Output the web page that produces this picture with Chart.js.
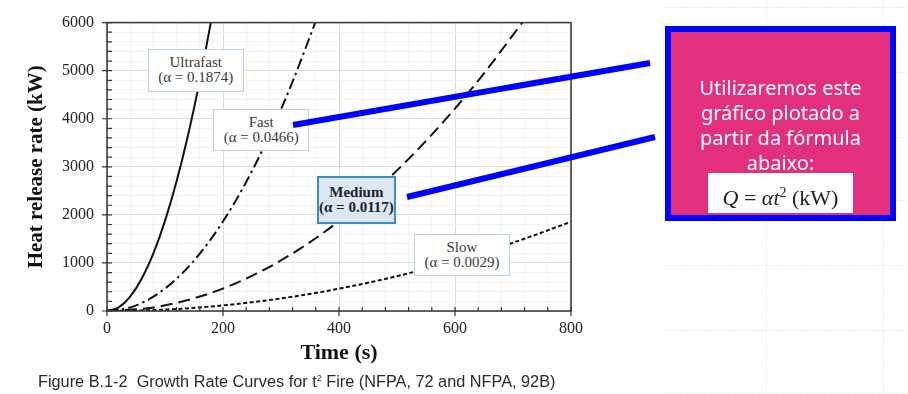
<!DOCTYPE html>
<html>
<head>
<meta charset="utf-8">
<script src="https://cdn.jsdelivr.net/npm/chart.js@4.4.1/dist/chart.umd.min.js"></script>
<style>
  body { margin: 0; width: 908px; height: 394px; overflow: hidden; background: #fff; position: relative; }
  #paper { position: absolute; left: 0; top: 0; }
  #chartBox { position: absolute; left: 0; top: 0; width: 908px; height: 394px; }
  .lbl {
    position: absolute; box-sizing: border-box; background: #fff;
    border: 1.5px solid #b9d3e8; color: #3a3a3a;
    font-family: 'Liberation Serif', 'Times New Roman', serif;
    font-size: 15px; line-height: 15px; text-align: center;
    display: flex; flex-direction: column; justify-content: center;
  }
  .lbl.med { background: #dbe8f4; border: 2px solid #3d8ad0; font-weight: bold; color: #1e1e1e; }
  #caption {
    position: absolute; left: 38px; top: 372px; white-space: nowrap;
    font-family: 'Liberation Sans', Arial, sans-serif; font-size: 16.3px; color: #2a2a2a;
  }
  #caption sup { font-size: 9px; }
  #note {
    position: absolute; left: 665px; top: 26px; width: 231px; height: 195px;
    box-sizing: border-box; border: 6px solid #0000ff; background: #e2307f;
  }
  #noteText {
    position: absolute; left: 665px; top: 75px; width: 231px; text-align: center;
    color: #fff; font-family: 'Noto Sans', sans-serif; font-size: 20px; line-height: 25px;
  }
  #formula {
    position: absolute; left: 708px; top: 173px; width: 145px; height: 40px; background: #fff;
    font-family: 'Liberation Serif', 'Times New Roman', serif; font-size: 22px; color: #222;
    text-align: center; line-height: 40px;
  }
  #formula sup { font-size: 14px; }
  #links { position: absolute; left: 0; top: 0; }
</style>
</head>
<body>
<svg id="paper" width="908" height="394">
  <g stroke="#ececec" stroke-width="1" stroke-dasharray="2,1">
    <line x1="665" y1="7.5" x2="908" y2="7.5"/>
    <line x1="665" y1="72.5" x2="908" y2="72.5"/>
    <line x1="665" y1="137.5" x2="908" y2="137.5"/>
    <line x1="665" y1="200.5" x2="908" y2="200.5"/>
    <line x1="665" y1="265.5" x2="908" y2="265.5"/>
    <line x1="665" y1="330.5" x2="908" y2="330.5"/>
    <line x1="665" y1="393.5" x2="908" y2="393.5"/>
    <line x1="766.5" y1="0" x2="766.5" y2="394"/>
    <line x1="883.5" y1="0" x2="883.5" y2="394"/>
  </g>
</svg>
<div id="chartBox"><canvas id="fireChart" width="908" height="394"></canvas></div>
<div class="lbl" id="lbl0"></div>
<div class="lbl" id="lbl1"></div>
<div class="lbl med" id="lbl2"></div>
<div class="lbl" id="lbl3"></div>
<div id="caption">Figure B.1-2&nbsp; Growth Rate Curves for t<sup>2</sup> Fire (NFPA, 72 and NFPA, 92B)</div>
<svg id="links" width="908" height="394">
  <line x1="293" y1="125" x2="650" y2="63" stroke="#0000ff" stroke-width="6"/>
  <line x1="407" y1="197" x2="655" y2="137" stroke="#0000ff" stroke-width="6"/>
</svg>
<div id="note"></div>
<div id="noteText">Utilizaremos este<br>gráfico plotado a<br>partir da fórmula<br>abaixo:</div>
<div id="formula"><i>Q</i> = <i>αt</i><sup>2</sup> (kW)</div>
<script>
  // values (t in s, Q in kW)
  const ultraT = [0, 20, 40, 60, 80, 100, 120, 140, 160, 179];
  const ultraQ = [0, 75, 300, 675, 1199, 1874, 2699, 3673, 4797, 6000];
  const fastT = [0, 40, 80, 120, 160, 200, 240, 280, 320, 359];
  const fastQ = [0, 75, 298, 671, 1193, 1864, 2684, 3653, 4772, 6000];
  const mediumT = [0, 80, 160, 240, 320, 400, 480, 560, 640, 716];
  const mediumQ = [0, 75, 300, 674, 1198, 1872, 2696, 3669, 4792, 6000];
  const slowT = [0, 100, 200, 300, 400, 500, 600, 700, 800];
  const slowQ = [0, 29, 116, 261, 464, 725, 1044, 1421, 1856];

  const seriesNames = ['Ultrafast', 'Fast', 'Medium', 'Slow'];
  const alphas = ['0.1874', '0.0466', '0.0117', '0.0029'];

  // label boxes, anchored at (t, Q) centre
  const labelBoxes = [
      { t: 153, q: 5005, w: 96, h: 43 },
      { t: 266, q: 3756, w: 96, h: 42 },
      { t: 430, q: 2315, w: 79, h: 48 },
      { t: 612, q: 1157, w: 96, h: 42 }
  ];

  const pts = (ts, qs) => ts.map((t, i) => ({ x: t, y: qs[i] }));
  const serif = "'Liberation Serif', 'Times New Roman', serif";

  const lineSet = (label, data, dash) => ({
      label: label,
      data: data,
      borderColor: '#111',
      borderWidth: 2,
      borderDash: dash,
      pointRadius: 0,
      fill: false,
      cubicInterpolationMode: 'monotone'
  });

  const framePlugin = {
      id: 'frame',
      afterDatasetsDraw(chart) {
          const { ctx, chartArea: a, scales: { x, y } } = chart;
          ctx.save();
          ctx.strokeStyle = '#333';
          ctx.lineWidth = 1.5;
          ctx.strokeRect(a.left, a.top, a.right - a.left, a.bottom - a.top);
          ctx.beginPath();
          x.ticks.forEach(t => {
              const px = x.getPixelForValue(t.value);
              ctx.moveTo(px, a.bottom - 4);
              ctx.lineTo(px, t.value % 200 === 0 ? a.bottom + 5 : a.bottom);
          });
          y.ticks.forEach(t => {
              const py = y.getPixelForValue(t.value);
              ctx.moveTo(t.value % 1000 === 0 ? a.left - 5 : a.left, py);
              ctx.lineTo(a.left + 5, py);
          });
          ctx.lineWidth = 1.2;
          ctx.stroke();
          ctx.restore();
      },
      afterDraw(chart) {
          const { x, y } = chart.scales;
          labelBoxes.forEach((b, i) => {
              const el = document.getElementById('lbl' + i);
              el.innerHTML = seriesNames[i] + '<br>(α = ' + alphas[i] + ')';
              el.style.width = b.w + 'px';
              el.style.height = b.h + 'px';
              el.style.left = (x.getPixelForValue(b.t) - b.w / 2) + 'px';
              el.style.top = (y.getPixelForValue(b.q) - b.h / 2) + 'px';
          });
      }
  };

  const ctx = document.getElementById('fireChart').getContext('2d');
  const fireChart = new Chart(ctx, {
      type: 'line',
      data: {
          datasets: [
              lineSet('Ultrafast', pts(ultraT, ultraQ), []),
              lineSet('Fast', pts(fastT, fastQ), [11, 4, 2.5, 4]),
              lineSet('Medium', pts(mediumT, mediumQ), [12, 6]),
              lineSet('Slow', pts(slowT, slowQ), [4, 2.5])
          ]
      },
      options: {
          responsive: false,
          animation: false,
          layout: { padding: { left: 0, top: 15, right: 337, bottom: 0 } },
          plugins: {
              legend: { display: false },
              tooltip: { enabled: false }
          },
          scales: {
              x: {
                  type: 'linear',
                  min: 0,
                  max: 800,
                  afterFit: s => { s.height = 83; },
                  border: { display: false },
                  grid: {
                      drawTicks: false,
                      color: c => (c.tick && c.tick.value % 200 === 0) ? '#dcdcdc' : '#f3f3f3'
                  },
                  ticks: {
                      stepSize: 40,
                      autoSkip: false,
                      maxRotation: 0,
                      padding: 8,
                      color: '#222',
                      font: { family: serif, size: 16 },
                      callback: v => v % 200 === 0 ? v : ''
                  },
                  title: {
                      display: true,
                      text: 'Time (s)',
                      color: '#111',
                      font: { family: serif, size: 22, weight: 'bold' },
                      padding: { top: 0, bottom: 27 }
                  }
              },
              y: {
                  min: 0,
                  max: 6000,
                  afterFit: s => { s.width = 107; },
                  border: { display: false },
                  grid: {
                      drawTicks: false,
                      color: c => (c.tick && c.tick.value % 1000 === 0) ? '#dcdcdc' : '#f3f3f3'
                  },
                  ticks: {
                      stepSize: 200,
                      autoSkip: false,
                      padding: 13,
                      color: '#222',
                      font: { family: serif, size: 16 },
                      callback: v => v % 1000 === 0 ? v : ''
                  },
                  title: {
                      display: true,
                      text: 'Heat release rate (kW)',
                      color: '#111',
                      font: { family: serif, size: 21, weight: 'bold' },
                      padding: { top: 24, bottom: 0 }
                  }
              }
          }
      },
      plugins: [framePlugin]
  });
</script>
</body>
</html>
